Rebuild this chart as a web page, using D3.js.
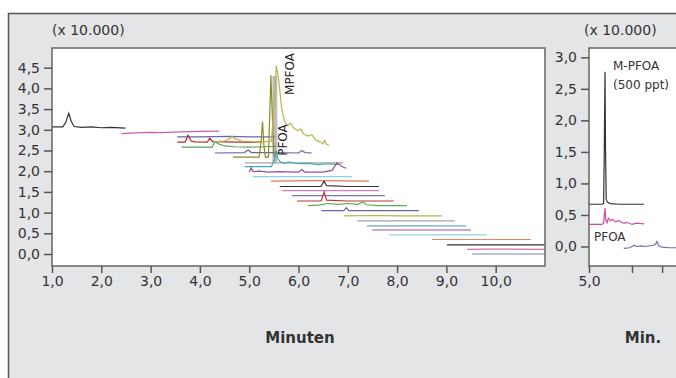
<!DOCTYPE html>
<html>
<head>
<meta charset="utf-8">
<script src="https://cdn.jsdelivr.net/npm/d3@7"></script>
<style>
  body { margin: 0; background: #fff; }
  svg text { font-family: "DejaVu Sans", sans-serif; fill: #333; }
</style>
</head>
<body>
<div id="chart"></div>
<script>
// ---- data: left panel chromatograms, [minutes, intensity x10.000] ----
const tr01 = [[1.0,3.07],[1.22,3.07],[1.28,3.18],[1.34,3.4],[1.39,3.2],[1.45,3.08],[1.6,3.06],[1.8,3.07],[2.0,3.05],[2.2,3.06],[2.49,3.04]];
const tr02 = [[2.41,2.91],[2.8,2.93],[3.0,2.94],[3.2,2.93],[3.6,2.95],[4.0,2.96],[4.39,2.97]];
const tr03 = [[3.54,2.83],[4.0,2.83],[4.6,2.84],[5.0,2.83],[5.52,2.83]];
const tr04 = [[3.54,2.70],[3.70,2.70],[3.76,2.87],[3.82,2.73],[3.9,2.71],[4.15,2.70],[4.2,2.80],[4.25,2.72],[4.5,2.71],[4.8,2.70],[5.0,2.71],[5.26,2.70]];
const tr05 = [[3.63,2.58],[4.25,2.58],[4.3,2.72],[4.38,2.66],[4.5,2.61],[4.7,2.59],[5.0,2.58],[5.3,2.59],[5.55,2.60]];
const tr06 = [[4.3,2.72],[4.5,2.73],[4.6,2.78],[4.65,2.84],[4.72,2.78],[4.85,2.73],[5.0,2.72],[5.2,2.71],[5.45,2.72],[5.5,3.5],[5.55,4.55],[5.6,4.2],[5.66,3.5],[5.72,3.2],[5.78,3.1],[5.84,3.16],[5.9,3.05],[5.98,2.98],[6.05,3.02],[6.1,2.9],[6.2,2.85],[6.27,2.88],[6.35,2.75],[6.45,2.7],[6.5,2.66],[6.53,2.75],[6.57,2.65],[6.62,2.63]];
const tr07 = [[4.67,2.34],[5.2,2.34],[5.24,2.7],[5.27,3.2],[5.3,2.6],[5.33,2.34],[5.39,2.34],[5.42,3.5],[5.44,4.32],[5.47,3.3],[5.5,2.4],[5.52,2.34]];
const tr08 = [[4.3,2.44],[4.9,2.45],[4.98,2.51],[5.04,2.45],[5.5,2.45],[6.0,2.44],[6.07,2.5],[6.13,2.45],[6.27,2.44]];
const tr09 = [[4.91,2.2],[6.9,2.2]];
const tr10 = [[4.91,2.11],[5.45,2.11],[5.52,2.3],[5.55,2.5],[5.58,2.3],[5.62,2.24],[5.7,2.19],[5.8,2.22],[6.0,2.18],[6.2,2.19],[6.4,2.16],[6.6,2.18],[6.8,2.16]];
const tr11 = [[5.0,1.98],[5.04,2.08],[5.08,1.99],[5.2,2.0],[5.4,1.98],[5.6,1.99],[6.0,1.98],[6.07,2.04],[6.12,1.98],[6.5,1.98],[6.68,2.02],[6.78,2.2],[6.84,2.15],[6.9,2.1],[6.97,2.07]];
const tr12 = [[5.07,1.87],[7.08,1.87]];
const tr13 = [[5.44,1.76],[6.4,1.77],[7.43,1.76]];
const tr14 = [[5.62,1.63],[6.45,1.63],[6.52,1.76],[6.57,1.65],[7.0,1.63],[7.63,1.63]];
const tr15 = [[5.67,1.53],[7.63,1.53]];
const tr16 = [[5.87,1.41],[7.75,1.41]];
const tr17 = [[5.97,1.28],[6.46,1.28],[6.52,1.5],[6.57,1.3],[7.0,1.28],[7.93,1.28]];
const tr18 = [[6.19,1.17],[6.4,1.18],[6.6,1.22],[6.8,1.2],[7.0,1.22],[7.2,1.2],[7.31,1.26],[7.38,1.19],[7.6,1.17],[8.2,1.17]];
const tr19 = [[6.46,1.05],[6.92,1.05],[6.97,1.12],[7.02,1.05],[8.44,1.05]];
const tr20 = [[6.92,0.92],[7.6,0.93],[8.0,0.92],[8.91,0.92]];
const tr21 = [[7.19,0.80],[9.17,0.80]];
const tr22 = [[7.39,0.68],[9.40,0.68]];
const tr23 = [[7.49,0.58],[9.5,0.58]];
const tr24 = [[7.84,0.46],[9.82,0.46]];
const tr25 = [[8.71,0.35],[10.71,0.35]];
const tr26 = [[9.01,0.22],[11.2,0.22]];
const tr27 = [[9.42,0.11],[9.8,0.12],[11.2,0.11]];
const tr28 = [[9.52,0.0],[11.2,0.0]];
const leftTraces = [tr01,tr02,tr03,tr04,tr05,tr08,tr09,tr07,tr06,tr10,tr11,tr12,tr13,tr14,tr15,tr16,tr17,tr18,tr19,tr20,tr21,tr22,tr23,tr24,tr25,tr26,tr27,tr28];
// shaded peak area [t, low, high]
const pfoaArea = [[5.47,2.2,4.3],[5.57,2.2,4.3]];

// right panel: standard
const rBlack = [[5.0,0.67],[5.3,0.67],[5.34,0.68],[5.355,1.5],[5.372,2.77],[5.385,1.5],[5.4,0.75],[5.43,0.70],[5.5,0.68],[5.7,0.67],[6.0,0.67],[6.28,0.67]];
const rPink = [[5.0,0.35],[5.3,0.35],[5.34,0.37],[5.372,0.61],[5.39,0.42],[5.42,0.38],[5.45,0.45],[5.5,0.41],[5.55,0.43],[5.62,0.39],[5.7,0.41],[5.8,0.37],[5.9,0.38],[6.0,0.35],[6.1,0.37],[6.28,0.36]];
const rBlue = [[5.81,-0.03],[5.95,-0.02],[6.05,0.02],[6.1,0.0],[6.2,0.01],[6.3,0.0],[6.5,0.02],[6.55,0.04],[6.58,0.08],[6.62,0.01],[6.7,-0.01],[6.85,-0.02],[7.05,-0.02]];
const rightTraces = [rBlack, rPink, rBlue];

const leftYTicks = [0,0.5,1,1.5,2,2.5,3,3.5,4,4.5];
const leftXTicks = [1,2,3,4,5,6,7,8,9,10];
const rightYTicks = [0,0.5,1,1.5,2,2.5,3];
const rightXTicks = [5,6,6.7];

// ---- styles ----
const leftColors = ["#333","#c75fa8","#6c66ad","#a8322e","#5aa65a","#6e64aa","#a5a5a5","#8e8b25","#bab54a","#3fa9b2","#9a4fa2","#8fd3e3","#e2765f","#333","#d27cb9","#7478c0","#c23434","#5aaa5a","#6b62aa","#b4b446","#a3a3a3","#6aa8b4","#a055a8","#90d6e4","#e48462","#333","#d070b0","#7a86b8"];
const rightColors = ["#333","#c8509f","#6c6cb4"];

const W = 676, H = 378;
const fmt = d => d3.format(".1f")(d).replace(".", ",");

const svg = d3.select("#chart").append("svg").attr("width", W).attr("height", H);

svg.append("rect").attr("x", 8.5).attr("y", 13.5).attr("width", 700).attr("height", 400)
  .attr("fill", "#e4e5e6").attr("stroke", "#555").attr("stroke-width", 1.5);

// ---- left panel ----
const L = {x0: 52, x1: 545, y0: 48, y1: 266};
const xL = d3.scaleLinear().domain([1, 10]).range([52, 495.7]);
const yL = d3.scaleLinear().domain([0, 4.5]).range([254, 67.7]);

svg.append("clipPath").attr("id", "clipL").append("rect")
  .attr("x", L.x0).attr("y", L.y0).attr("width", L.x1 - L.x0).attr("height", L.y1 - L.y0);
svg.append("rect").attr("x", L.x0).attr("y", L.y0).attr("width", L.x1 - L.x0).attr("height", L.y1 - L.y0)
  .attr("fill", "#fff");

const gL = svg.append("g").attr("clip-path", "url(#clipL)");
gL.append("path").datum(pfoaArea)
  .attr("fill", "#bdbdbd")
  .attr("d", d3.area().x(d => xL(d[0])).y0(d => yL(d[1])).y1(d => yL(d[2])));

const lineL = d3.line().x(d => xL(d[0])).y(d => yL(d[1]));
gL.selectAll("path.trace").data(leftTraces).enter().append("path")
  .attr("class", "trace")
  .attr("fill", "none")
  .attr("stroke", (d, i) => leftColors[i])
  .attr("stroke-width", 1.2)
  .attr("d", lineL);

svg.append("rect").attr("x", L.x0).attr("y", L.y0).attr("width", L.x1 - L.x0).attr("height", L.y1 - L.y0)
  .attr("fill", "none").attr("stroke", "#666").attr("stroke-width", 1.5);

const axYL = svg.append("g").attr("transform", "translate(" + L.x0 + ",0)")
  .call(d3.axisLeft(yL).tickValues(leftYTicks).tickFormat(fmt).tickSize(8).tickPadding(4));
const axXL = svg.append("g").attr("transform", "translate(0," + L.y1 + ")")
  .call(d3.axisBottom(xL).tickValues(leftXTicks).tickFormat(fmt).tickSize(7).tickPadding(3));

svg.append("text").attr("x", 52).attr("y", 35).attr("font-size", 14).text("(x 10.000)");
svg.append("text").attr("x", 300).attr("y", 343).attr("text-anchor", "middle")
  .attr("font-size", 15).attr("font-weight", "bold").text("Minuten");

svg.append("text").attr("transform", "translate(287,140) rotate(-90)")
  .attr("text-anchor", "middle").attr("font-size", 12).style("fill", "#222").text("PFOA");
svg.append("text").attr("transform", "translate(294,74) rotate(-90)")
  .attr("text-anchor", "middle").attr("font-size", 12).style("fill", "#222").text("MPFOA");

// ---- right panel ----
const R = {x0: 589, x1: 700, y0: 48, y1: 266};
const xR = d3.scaleLinear().domain([5, 6]).range([589, 632]);
const yR = d3.scaleLinear().domain([0, 3]).range([246.5, 57.3]);

svg.append("clipPath").attr("id", "clipR").append("rect")
  .attr("x", R.x0).attr("y", R.y0).attr("width", R.x1 - R.x0).attr("height", R.y1 - R.y0);
svg.append("rect").attr("x", R.x0).attr("y", R.y0).attr("width", R.x1 - R.x0).attr("height", R.y1 - R.y0)
  .attr("fill", "#fff").attr("stroke", "#666").attr("stroke-width", 1.5);

const lineR = d3.line().x(d => xR(d[0])).y(d => yR(d[1]));
svg.append("g").attr("clip-path", "url(#clipR)")
  .selectAll("path").data(rightTraces).enter().append("path")
  .attr("fill", "none")
  .attr("stroke", (d, i) => rightColors[i])
  .attr("stroke-width", 1.2)
  .attr("d", lineR);

const axYR = svg.append("g").attr("transform", "translate(" + R.x0 + ",0)")
  .call(d3.axisLeft(yR).tickValues(rightYTicks).tickFormat(fmt).tickSize(8).tickPadding(4));
const axXR = svg.append("g").attr("transform", "translate(0," + R.y1 + ")")
  .call(d3.axisBottom(xR).tickValues(rightXTicks).tickFormat(d => d === 5 ? fmt(d) : "").tickSize(7).tickPadding(3));

[axYL, axXL, axYR, axXR].forEach(a => {
  a.select(".domain").remove();
  a.selectAll(".tick line").attr("stroke", "#555").attr("stroke-width", 1.5);
  a.selectAll(".tick text").attr("font-size", 14).style("fill", "#333")
    .attr("font-family", "DejaVu Sans, sans-serif");
});

svg.append("text").attr("x", 584).attr("y", 35).attr("font-size", 14).text("(x 10.000)");
svg.append("text").attr("x", 643).attr("y", 343).attr("text-anchor", "middle")
  .attr("font-size", 15).attr("font-weight", "bold").text("Min.");
svg.append("text").attr("x", 613).attr("y", 70).attr("font-size", 12).text("M-PFOA");
svg.append("text").attr("x", 613).attr("y", 89).attr("font-size", 12).text("(500 ppt)");
svg.append("text").attr("x", 594).attr("y", 241).attr("font-size", 12).text("PFOA");
</script>
</body>
</html>
